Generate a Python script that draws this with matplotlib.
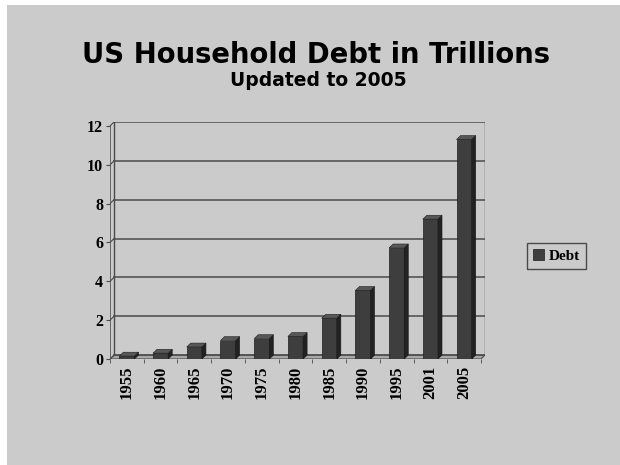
import numpy as np
import matplotlib.pyplot as plt
from matplotlib.patches import Polygon, Rectangle

# values (trillions of dollars)
years = ["1955", "1960", "1965", "1970", "1975", "1980", "1985", "1990", "1995", "2001", "2005"]
debt = [0.15, 0.3, 0.62, 0.95, 1.05, 1.16, 2.1, 3.53, 5.72, 7.2, 11.3]
y_ticks = [0, 2, 4, 6, 8, 10, 12]

bg = "#cbcbcb"
line_col = "#4a4a4a"
serif = "Liberation Serif"

fig = plt.figure(figsize=(6.2, 4.65), dpi=100)
fig.patch.set_facecolor("white")
fig.add_artist(Rectangle((7 / 620, 0), 1, 1 - 5 / 465, transform=fig.transFigure,
                         facecolor=bg, edgecolor="none", zorder=-10))

ax = fig.add_axes([110 / 620, 1 - 359 / 465, 375 / 620, 237 / 465])
ax.set_facecolor("none")
for s in ax.spines.values():
    s.set_visible(False)

# fake 3d depth, in data units
dx, dy = 0.12, 0.2
w = 0.45
x = np.arange(len(years))
n = len(years)
ax.set_xlim(-0.5, n - 0.5 + dx)
ax.set_ylim(0, 12 + dy)

x0, x1 = -0.5 + dx, n - 0.5 + dx

# floor
ax.add_patch(Polygon([(-0.5, 0), (n - 0.5, 0), (x1, dy), (x0, dy)],
                     facecolor="#a8a8a8", edgecolor=line_col, lw=0.8, zorder=1))

# back wall gridlines and side wall diagonals
for t in y_ticks:
    ax.plot([x0, x1], [t + dy, t + dy], color=line_col, lw=1.1, zorder=1)
    ax.plot([-0.5, x0], [t, t + dy], color=line_col, lw=0.8, zorder=1)
ax.plot([x0, x0], [dy, 12 + dy], color=line_col, lw=1, zorder=1)
ax.plot([x1, x1], [dy, 12 + dy], color=line_col, lw=1, zorder=1)
ax.plot([-0.5, -0.5], [0, 12], color=line_col, lw=1.1, zorder=1)

# bars: front face + side + top
bars = ax.bar(x, debt, width=w, color="#3e3e3e", edgecolor="#1e1e1e", lw=0.5,
              zorder=3, label="Debt")
for xi, v in zip(x, debt):
    r = xi + w / 2
    l = xi - w / 2
    ax.add_patch(Polygon([(r, 0), (r + dx, dy), (r + dx, v + dy), (r, v)],
                         facecolor="#222222", edgecolor="#181818", lw=0.4, zorder=3))
    ax.add_patch(Polygon([(l, v), (r, v), (r + dx, v + dy), (l + dx, v + dy)],
                         facecolor="#575757", edgecolor="#1e1e1e", lw=0.4, zorder=3))

ax.set_yticks(y_ticks)
ax.set_yticklabels([str(t) for t in y_ticks], fontfamily=serif, fontweight="bold", fontsize=11.5)
ax.tick_params(axis="y", length=3, color=line_col, pad=2)

ax.set_xticks(x)
ax.set_xticklabels(years, rotation=90, fontfamily=serif, fontweight="bold", fontsize=12)
ax.set_xticks(np.arange(-0.5, n, 1.0), minor=True)
ax.tick_params(axis="x", which="major", length=0, pad=5)
ax.tick_params(axis="x", which="minor", length=3, color=line_col)

leg = ax.legend(handles=[bars], loc="center left",
                bbox_to_anchor=(527 / 620, 1 - 256 / 465), bbox_transform=fig.transFigure,
                prop={"family": serif, "weight": "bold", "size": 11},
                frameon=True, fancybox=False, edgecolor=line_col, facecolor=bg,
                framealpha=1, handlelength=0.7, handleheight=0.7,
                handletextpad=0.3, borderpad=0.4, borderaxespad=0)
leg.get_frame().set_linewidth(1)

fig.text(0.51, 1 - 63 / 465, "US Household Debt in Trillions", ha="center", va="baseline",
         fontsize=19.8, fontweight="bold", family="DejaVu Sans")
fig.text(0.513, 1 - 86 / 465, "Updated to 2005", ha="center", va="baseline",
         fontsize=13.5, fontweight="bold", family="DejaVu Sans")

fig.savefig("out.png", dpi=100, facecolor=fig.get_facecolor())
